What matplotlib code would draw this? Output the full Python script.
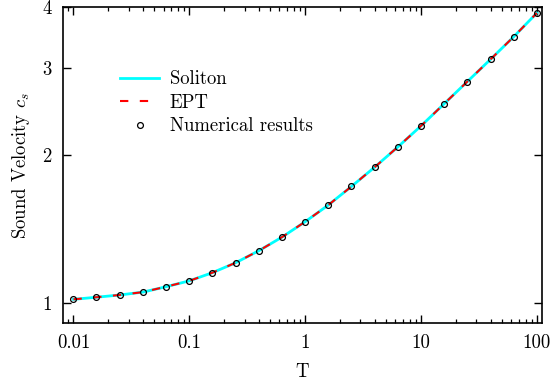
import matplotlib
matplotlib.use("Agg")
import matplotlib.pyplot as plt
from matplotlib.ticker import LogLocator, FixedLocator, NullLocator, FixedFormatter, NullFormatter

plt.rcParams['font.family'] = ['cmr10', 'DejaVu Serif']
plt.rcParams['mathtext.fontset'] = 'cm'
plt.rcParams['axes.unicode_minus'] = False
plt.rcParams['axes.formatter.use_mathtext'] = True

T = [0.01, 0.0158, 0.0251, 0.0398, 0.0631, 0.1, 0.158, 0.251, 0.398, 0.631,
     1.0, 1.58, 2.51, 3.98, 6.31, 10.0, 15.8, 25.1, 39.8, 63.1, 100.0]
cs_numerical = [1.016, 1.026, 1.037, 1.051, 1.078, 1.108, 1.151, 1.206, 1.276, 1.360,
                1.462, 1.580, 1.725, 1.888, 2.076, 2.291, 2.54, 2.82, 3.13, 3.48, 3.89]
cs_soliton = cs_numerical
cs_ept = cs_numerical

xticks = [0.01, 0.1, 1, 10, 100]
xticklabels = ['0.01', '0.1', '1', '10', '100']
yticks = [1, 2, 3, 4]
yticklabels = ['1', '2', '3', '4']

FS = 13.5

fig = plt.figure(figsize=(5.51, 3.86), dpi=100)
ax = fig.add_axes([62.5/551, 1 - 323.3/386, (541.7 - 62.5)/551, (323.3 - 7)/386])

ax.plot(T, cs_soliton, color='#00ffff', lw=2.0, label='Soliton', zorder=2)
ax.plot(T, cs_ept, color='#ff0000', lw=1.5, dashes=(4, 5.5), label='EPT', zorder=3)
ax.plot(T, cs_numerical, linestyle='none', marker='o', ms=4.2, mfc='none', mec='black',
        mew=0.9, label='Numerical results', zorder=4)

ax.set_xscale('log')
ax.set_yscale('log')
ax.set_xlim(0.00804, 110)
ax.set_ylim(0.908, 4.0)

ax.xaxis.set_major_locator(FixedLocator(xticks))
ax.xaxis.set_major_formatter(FixedFormatter(xticklabels))
ax.xaxis.set_minor_locator(LogLocator(base=10, subs=range(2, 10)))
ax.xaxis.set_minor_formatter(NullFormatter())
ax.yaxis.set_major_locator(FixedLocator(yticks))
ax.yaxis.set_major_formatter(FixedFormatter(yticklabels))
ax.yaxis.set_minor_locator(NullLocator())

ax.tick_params(which='both', direction='in', top=True, right=True, labelsize=FS, pad=8)
ax.tick_params(which='major', length=6, width=1.0)
ax.tick_params(which='minor', length=3, width=0.9)
for s in ax.spines.values():
    s.set_linewidth(1.2)

ax.set_xlabel('T', fontsize=FS, labelpad=8)
ax.set_ylabel('Sound Velocity $c_s$', fontsize=FS, labelpad=7)

leg = ax.legend(loc='upper left', bbox_to_anchor=(0.12, 0.80), frameon=False, fontsize=FS,
                handlelength=2.1, handletextpad=0.55, labelspacing=0.3, borderaxespad=0,
                borderpad=0)

fig.savefig('out.png', dpi=100)
